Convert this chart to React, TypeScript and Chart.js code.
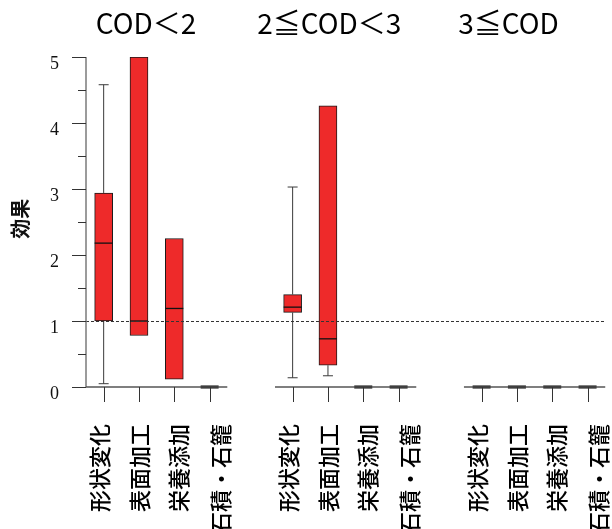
import React, { useEffect, useRef } from "react";
import { Chart, registerables } from "chart.js";

Chart.register(...registerables);

// ---- data ----
const groups = ["COD＜2", "2≦COD＜3", "3≦COD"];
const categories = ["形状変化", "表面加工", "栄養添加", "石積・石籠"];
// 12 entries: group-major order (3 groups x 4 categories)
const whiskerMin = [0.05, 0.78, 0.12, 0, 0.14, 0.17, 0, 0, 0, 0, 0, 0];
const q1 = [1.0, 0.78, 0.12, 0, 1.13, 0.33, 0, 0, 0, 0, 0, 0];
const median = [2.18, 1.0, 1.19, 0, 1.21, 0.73, 0, 0, 0, 0, 0, 0];
const q3 = [2.94, 5.0, 2.25, 0, 1.4, 4.26, 0, 0, 0, 0, 0, 0];
const whiskerMax = [4.58, 5.0, 2.25, 0, 3.03, 4.26, 0, 0, 0, 0, 0, 0];
const yTicks = [0, 1, 2, 3, 4, 5];
const refValue = 1;
const yTitle = "効果";

// ---- layout (not data) ----
const GROUP_STRIDE = 5.35;
const TITLE_SHIFT = [-0.3, -0.46, -0.74];
const LABEL_SHIFT_PX = [-5, 0, 4.5, 10];
const positions: number[] = [];
groups.forEach((_, g) =>
  categories.forEach((_, c) => positions.push(1 + g * GROUP_STRIDE + c))
);

const CJK = '"Noto Sans CJK JP", "Noto Sans", sans-serif';

const decor = {
  id: "decor",
  afterDatasetsDraw(chart: any) {
    const { ctx, chartArea } = chart;
    const x = chart.scales.x;
    const y = chart.scales.y;
    const y0 = y.getPixelForValue(0);
    ctx.save();

    // whiskers, medians, zero marks
    positions.forEach((p, i) => {
      const px = x.getPixelForValue(p);
      const allZero = whiskerMax[i] === 0 && q3[i] === 0;
      if (allZero) {
        ctx.strokeStyle = "#000";
        ctx.lineWidth = 3;
        ctx.beginPath();
        ctx.moveTo(px - 9, y.getPixelForValue(median[i]));
        ctx.lineTo(px + 9, y.getPixelForValue(median[i]));
        ctx.stroke();
        return;
      }
      ctx.strokeStyle = "#3a3a3a";
      ctx.lineWidth = 1;
      if (whiskerMax[i] > q3[i]) {
        const a = y.getPixelForValue(q3[i]);
        const b = y.getPixelForValue(whiskerMax[i]);
        ctx.beginPath();
        ctx.moveTo(px, a);
        ctx.lineTo(px, b);
        ctx.moveTo(px - 5, b);
        ctx.lineTo(px + 5, b);
        ctx.stroke();
      }
      if (whiskerMin[i] < q1[i]) {
        const a = y.getPixelForValue(q1[i]);
        const b = y.getPixelForValue(whiskerMin[i]);
        ctx.beginPath();
        ctx.moveTo(px, a);
        ctx.lineTo(px, b);
        ctx.moveTo(px - 5, b);
        ctx.lineTo(px + 5, b);
        ctx.stroke();
      }
      ctx.strokeStyle = "#111";
      ctx.lineWidth = 1.3;
      const m = y.getPixelForValue(median[i]);
      ctx.beginPath();
      ctx.moveTo(px - 9, m);
      ctx.lineTo(px + 9, m);
      ctx.stroke();
    });

    // reference dashed line
    const ry = Math.round(y.getPixelForValue(refValue)) + 0.5;
    ctx.strokeStyle = "#333";
    ctx.lineWidth = 1;
    ctx.setLineDash([3, 2]);
    ctx.beginPath();
    ctx.moveTo(chartArea.left, ry);
    ctx.lineTo(chartArea.right - 3, ry);
    ctx.stroke();
    ctx.setLineDash([]);

    // y axis
    const left = chartArea.left;
    ctx.strokeStyle = "#7a7a7a";
    ctx.lineWidth = 1.5;
    ctx.beginPath();
    ctx.moveTo(left, y.getPixelForValue(yTicks[yTicks.length - 1]));
    ctx.lineTo(left, y0);
    ctx.stroke();
    ctx.strokeStyle = "#333";
    ctx.lineWidth = 1;
    for (let v = 0; v <= yTicks[yTicks.length - 1] + 1e-9; v += 0.5) {
      const py = Math.round(y.getPixelForValue(v)) + 0.5;
      const major = Math.abs(v - Math.round(v)) < 1e-9;
      ctx.beginPath();
      ctx.moveTo(left - (major ? 14 : 8), py);
      ctx.lineTo(left, py);
      ctx.stroke();
    }
    ctx.fillStyle = "#111";
    ctx.font = '18px "Liberation Serif", "DejaVu Serif", serif';
    ctx.textAlign = "right";
    ctx.textBaseline = "alphabetic";
    yTicks.forEach((v) => {
      ctx.fillText(String(v), left - 27, y.getPixelForValue(v) + 12);
    });

    // y title
    ctx.save();
    ctx.translate(20, y.getPixelForValue(2.55));
    ctx.rotate(-Math.PI / 2);
    ctx.font = "bold 20px " + CJK;
    ctx.textAlign = "center";
    ctx.textBaseline = "middle";
    ctx.fillText(yTitle, 0, 0);
    ctx.restore();

    // x axis segments, ticks, labels, titles
    groups.forEach((gName, g) => {
      const first = positions[g * categories.length];
      const last = positions[g * categories.length + categories.length - 1];
      ctx.strokeStyle = "#555";
      ctx.lineWidth = 1.5;
      ctx.beginPath();
      ctx.moveTo(x.getPixelForValue(first - 0.5), y0);
      ctx.lineTo(x.getPixelForValue(last + 0.5), y0);
      ctx.stroke();
      categories.forEach((cat, c) => {
        const px = Math.round(x.getPixelForValue(first + c)) + 0.5;
        ctx.strokeStyle = "#333";
        ctx.lineWidth = 1;
        ctx.beginPath();
        ctx.moveTo(px, y0);
        ctx.lineTo(px, y0 + 15);
        ctx.stroke();
        ctx.save();
        ctx.translate(px + LABEL_SHIFT_PX[c], y0 + 37);
        ctx.rotate(-Math.PI / 2);
        ctx.font = "500 22px " + CJK;
        ctx.fillStyle = "#000";
        ctx.textAlign = "right";
        ctx.textBaseline = "middle";
        ctx.fillText(cat, 0, 0);
        ctx.restore();
      });
      const cx = x.getPixelForValue((first + last) / 2 + TITLE_SHIFT[g]);
      ctx.font = "28px " + CJK;
      ctx.fillStyle = "#000";
      ctx.textAlign = "center";
      ctx.textBaseline = "alphabetic";
      ctx.fillText(gName, cx, 34);
    });

    ctx.restore();
  },
};

export default function App() {
  const ref = useRef<HTMLCanvasElement | null>(null);
  useEffect(() => {
    if (!ref.current) return;
    const chart = new Chart(ref.current, {
      type: "bar",
      data: {
        datasets: [
          {
            data: positions.map((p, i) => ({ x: p, y: [q1[i], q3[i]] })) as any,
            backgroundColor: "#EE2A2A",
            borderColor: "#1a1a1a",
            borderWidth: 1,
            borderSkipped: false,
            barThickness: 18,
          },
        ],
      },
      options: {
        animation: false,
        responsive: false,
        layout: { padding: { left: 86, right: 5, top: 57, bottom: 142 } },
        plugins: { legend: { display: false }, tooltip: { enabled: false } },
        scales: {
          x: { type: "linear", min: 0.5, max: 15.25, offset: false, display: false },
          y: { min: 0, max: 5, display: false },
        },
      },
      plugins: [decor],
    });
    return () => chart.destroy();
  }, []);
  return (
    <div style={{ position: "fixed", left: 0, top: 0, width: 612, height: 529, background: "#fff" }}>
      <canvas ref={ref} width={612} height={529} />
    </div>
  );
}
